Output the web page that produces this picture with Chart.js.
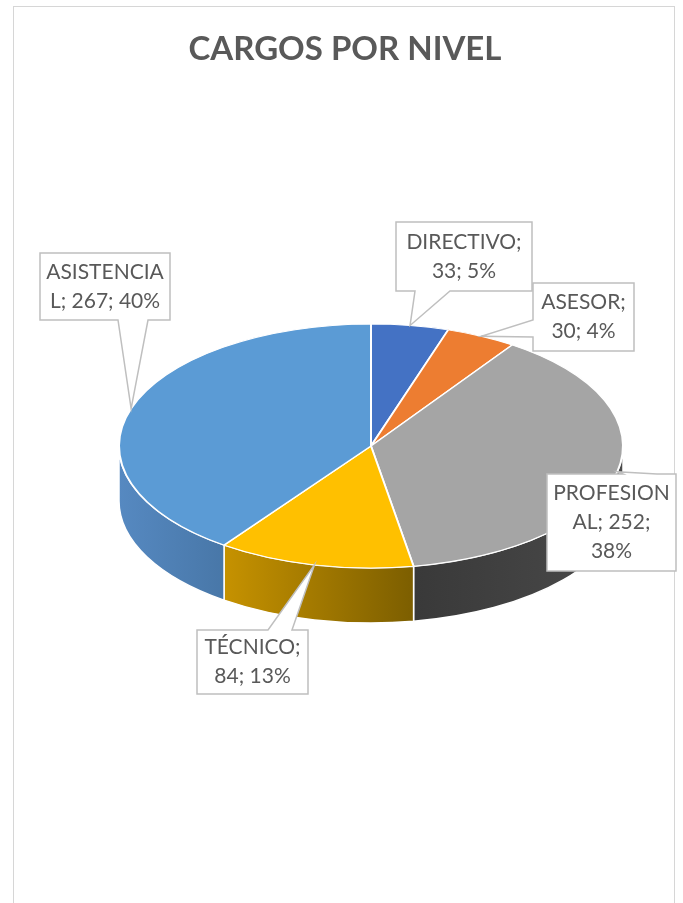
<!DOCTYPE html>
<html lang="es">
<head>
<meta charset="utf-8">
<title>Cargos por nivel</title>
<script src="https://cdn.jsdelivr.net/npm/chart.js@4.4.1/dist/chart.umd.min.js"></script>
<style>
    html, body { margin: 0; padding: 0; background: #ffffff; }
    body { width: 683px; height: 903px; position: relative; overflow: hidden; }
    .card {
        position: absolute; left: 13px; top: 6px; width: 662px; height: 920px;
        border: 1.5px solid #d6d6d6; box-sizing: border-box; background: #ffffff;
    }
    #cargosChart { position: absolute; left: 0; top: 0; }
</style>
</head>
<body>
<div class="card"></div>
<canvas id="cargosChart" width="683" height="903"></canvas>

<script>
// Datos del grafico
const categories = ['DIRECTIVO', 'ASESOR', 'PROFESIONAL', 'TÉCNICO', 'ASISTENCIAL'];
const cargos = [33, 30, 252, 84, 267];
const porcentajes = [5, 4, 38, 13, 40];

// Estilos
const sliceColors = ['#4472C4', '#ED7D31', '#A5A5A5', '#FFC000', '#5B9BD5'];
const sideColors = [
    ['#35599a', '#2f4f88'],
    ['#b85f22', '#a0521c'],
    ['#393939', '#4a4a4a'],
    ['#c69200', '#7c5e00'],
    ['#5689c1', '#4877a8']
];
const tilt = 122 / 252;   // aplastamiento vertical de la elipse
const depth = 55;         // grosor del pastel 3D
const textColor = '#595959';
const labelFont = '21px Lato';
const lineGap = 29;

// Cajas de las etiquetas: rect, lado del puntero y sus dos bases, cortes de linea
const labelBoxes = [
    { x: 396, y: 222, w: 136, h: 69, edge: 'bottom', a: 415, b: 450, breaks: [10] },
    { x: 533, y: 283, w: 101, h: 68, edge: 'left', a: 320, b: 337, breaks: [7] },
    { x: 547, y: 474, w: 129, h: 97, edge: 'top', a: 623, b: 657, breaks: [9, 17] },
    { x: 197, y: 630, w: 111, h: 64, edge: 'top', a: 268, b: 292, breaks: [8] },
    { x: 40, y: 253, w: 130, h: 67, edge: 'bottom', a: 118, b: 148, breaks: [10] }
];

// Paredes laterales + aplastado de la cara superior
const pie3d = {
    id: 'pie3d',
    beforeDatasetsDraw(chart) {
        const ctx = chart.ctx;
        const arcs = chart.getDatasetMeta(0).data;
        const c = arcs[0].getProps(['x', 'y'], true);

        arcs.forEach((arc, i) => {
            const p = arc.getProps(['x', 'y', 'startAngle', 'endAngle', 'outerRadius'], true);
            const ry = p.outerRadius * tilt;
            // solo la mitad frontal (0..PI) se ve
            const a = Math.max(p.startAngle, 0);
            const b = Math.min(p.endAngle, Math.PI);
            if (a >= b) return;

            const xl = p.x + p.outerRadius * Math.cos(b);
            const xr = p.x + p.outerRadius * Math.cos(a);
            const grad = ctx.createLinearGradient(xl, 0, xr, 0);
            grad.addColorStop(0, sideColors[i][0]);
            grad.addColorStop(1, sideColors[i][1]);

            ctx.save();
            ctx.beginPath();
            ctx.ellipse(p.x, p.y, p.outerRadius, ry, 0, a, b);
            ctx.lineTo(p.x + p.outerRadius * Math.cos(b), p.y + depth + ry * Math.sin(b));
            ctx.ellipse(p.x, p.y + depth, p.outerRadius, ry, 0, b, a, true);
            ctx.closePath();
            ctx.fillStyle = grad;
            ctx.fill();
            ctx.strokeStyle = '#ffffff';
            ctx.lineWidth = 1.5;
            ctx.stroke();
            ctx.restore();
        });

        ctx.save();
        ctx.translate(c.x, c.y);
        ctx.scale(1, tilt);
        ctx.translate(-c.x, -c.y);
    },
    afterDatasetsDraw(chart) {
        chart.ctx.restore();
    },
    afterDraw(chart) {
        const ctx = chart.ctx;
        const arcs = chart.getDatasetMeta(0).data;

        // Titulo
        ctx.save();
        ctx.fillStyle = textColor;
        ctx.font = 'bold 33px Lato';
        ctx.textAlign = 'center';
        ctx.textBaseline = 'middle';
        ctx.fillText('CARGOS POR NIVEL', 345, 49);
        ctx.restore();

        // Etiquetas con globo
        arcs.forEach((arc, i) => {
            const p = arc.getProps(['x', 'y', 'startAngle', 'endAngle', 'outerRadius'], true);
            const mid = (p.startAngle + p.endAngle) / 2;
            const tip = {
                x: p.x + p.outerRadius * Math.cos(mid),
                y: p.y + p.outerRadius * tilt * Math.sin(mid)
            };
            drawCallout(ctx, labelBoxes[i], tip);

            const text = categories[i] + '; ' + cargos[i] + '; ' + porcentajes[i] + '%';
            const lines = splitLines(text, labelBoxes[i].breaks);
            const box = labelBoxes[i];
            ctx.save();
            ctx.fillStyle = textColor;
            ctx.font = labelFont;
            ctx.textAlign = 'center';
            ctx.textBaseline = 'middle';
            const top = box.y + box.h / 2 - (lines.length - 1) * lineGap / 2;
            lines.forEach((ln, k) => ctx.fillText(ln, box.x + box.w / 2, top + k * lineGap));
            ctx.restore();
        });
    }
};

function splitLines(text, breaks) {
    const out = [];
    let from = 0;
    breaks.forEach(br => {
        out.push(text.slice(from, br).trim());
        from = br;
    });
    out.push(text.slice(from).trim());
    return out;
}

function drawCallout(ctx, box, tip) {
    const { x, y, w, h, edge, a, b } = box;
    ctx.save();
    ctx.beginPath();
    ctx.moveTo(x, y);
    if (edge === 'top') {
        ctx.lineTo(a, y);
        ctx.lineTo(tip.x, tip.y);
        ctx.lineTo(b, y);
    }
    ctx.lineTo(x + w, y);
    ctx.lineTo(x + w, y + h);
    if (edge === 'bottom') {
        ctx.lineTo(b, y + h);
        ctx.lineTo(tip.x, tip.y);
        ctx.lineTo(a, y + h);
    }
    ctx.lineTo(x, y + h);
    if (edge === 'left') {
        ctx.lineTo(x, b);
        ctx.lineTo(tip.x, tip.y);
        ctx.lineTo(x, a);
    }
    ctx.closePath();
    ctx.fillStyle = '#ffffff';
    ctx.fill();
    ctx.strokeStyle = '#bfbfbf';
    ctx.lineWidth = 1.5;
    ctx.stroke();
    ctx.restore();
}

const ctx = document.getElementById('cargosChart');
new Chart(ctx, {
    type: 'pie',
    data: {
        labels: categories,
        datasets: [{
            data: cargos,
            backgroundColor: sliceColors,
            borderColor: '#ffffff',
            borderWidth: 2
        }]
    },
    options: {
        responsive: false,
        animation: false,
        events: [],
        radius: 252,
        layout: { padding: { left: 118, right: 59, top: 193, bottom: 204 } },
        plugins: {
            legend: { display: false },
            tooltip: { enabled: false }
        }
    },
    plugins: [pie3d]
});
</script>
</body>
</html>
